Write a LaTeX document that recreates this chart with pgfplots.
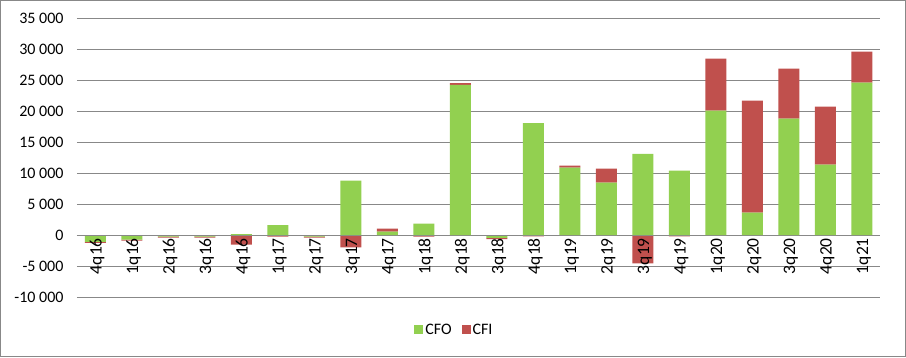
\documentclass[border=0pt]{standalone}
\usepackage{fontspec}
\setmainfont{Carlito}
\usepackage{pgfplots}
\pgfplotsset{compat=1.18}
\usepackage{pgfplotstable}
\definecolor{cfo}{HTML}{92D050}
\definecolor{cfi}{HTML}{C0504D}
\definecolor{gridc}{HTML}{888888}

% positive parts (stacked upward)
\pgfplotstableread{
x cfo cfi
0 0 0
1 0 0
2 0 0
3 0 0
4 160 0
5 1600 0
6 0 0
7 8760 0
8 530 480
9 1820 0
10 24200 300
11 0 0
12 18050 0
13 10850 320
14 8440 2260
15 13100 0
16 10370 0
17 20050 8390
18 3600 18060
19 18760 8060
20 11340 9350
21 24570 5000
}\postab

% negative parts (stacked downward)
\pgfplotstableread{
x cfo cfi
0 -1100 -150
1 -750 -150
2 -270 -160
3 -250 -170
4 0 -1560
5 0 -270
6 -270 -160
7 0 -2000
8 0 0
9 0 -270
10 0 0
11 -480 -200
12 0 -220
13 0 0
14 0 0
15 0 -4580
16 0 -220
17 0 0
18 0 0
19 0 0
20 0 0
21 0 0
}\negtab

\pgfplotsset{
  mybase/.style={
    scale only axis, width=803pt, height=279pt,
    at={(77pt,60pt)}, anchor=south west,
    xmin=-0.5, xmax=21.5, ymin=-10000, ymax=35000,
    enlargelimits=false,
    ybar stacked, bar width=21pt,
  }
}

\begin{document}
\begin{tikzpicture}
\path[use as bounding box] (0,0) rectangle (906pt,357pt);
\draw[gridc, line width=0.8pt] (0.4pt,0.4pt) rectangle (905.6pt,356.6pt);

\begin{axis}[mybase, hide axis]
\addplot[fill=cfo, draw=none] table[x=x,y=cfo]{\negtab};
\addplot[fill=cfi, draw=none] table[x=x,y=cfi]{\negtab};
\end{axis}

\begin{axis}[mybase,
  axis x line*=middle, axis y line*=left,
  x axis line style={draw=gridc, line width=0.75pt},
  y axis line style={draw=none},
  major tick length=0pt,
  ymajorgrids=true,
  grid style={gridc, line width=0.75pt},
  ytick={-10000,-5000,...,35000},
  xtick={0,...,21},
  xticklabels={4q16,1q16,2q16,3q16,4q16,1q17,2q17,3q17,4q17,1q18,2q18,3q18,4q18,1q19,2q19,3q19,4q19,1q20,2q20,3q20,4q20,1q21},
  /pgf/number format/assume math mode=true,
  /pgf/number format/1000 sep={\ },
  scaled y ticks=false,
  tick label style={text=black},
  yticklabel style={font=\fontsize{16}{19}\selectfont, xshift=-10pt},
  xticklabel style={font=\fontsize{17.5}{20}\selectfont, rotate=90, anchor=east, inner sep=3pt, yshift=-2pt},
  legend style={at={(0.47,-0.118)}, anchor=center, draw=none, fill=none,
    legend columns=2, font=\fontsize{16}{19}\selectfont,
    /tikz/every even column/.append style={column sep=8pt}},
  area legend,
  legend image code/.code={\fill[#1] (0pt,-4.5pt) rectangle (9pt,4.5pt);},
]
\addplot[fill=cfo, draw=none] table[x=x,y=cfo]{\postab};
\addplot[fill=cfi, draw=none] table[x=x,y=cfi]{\postab};
\legend{CFO,CFI}
\end{axis}
\end{tikzpicture}
\end{document}
